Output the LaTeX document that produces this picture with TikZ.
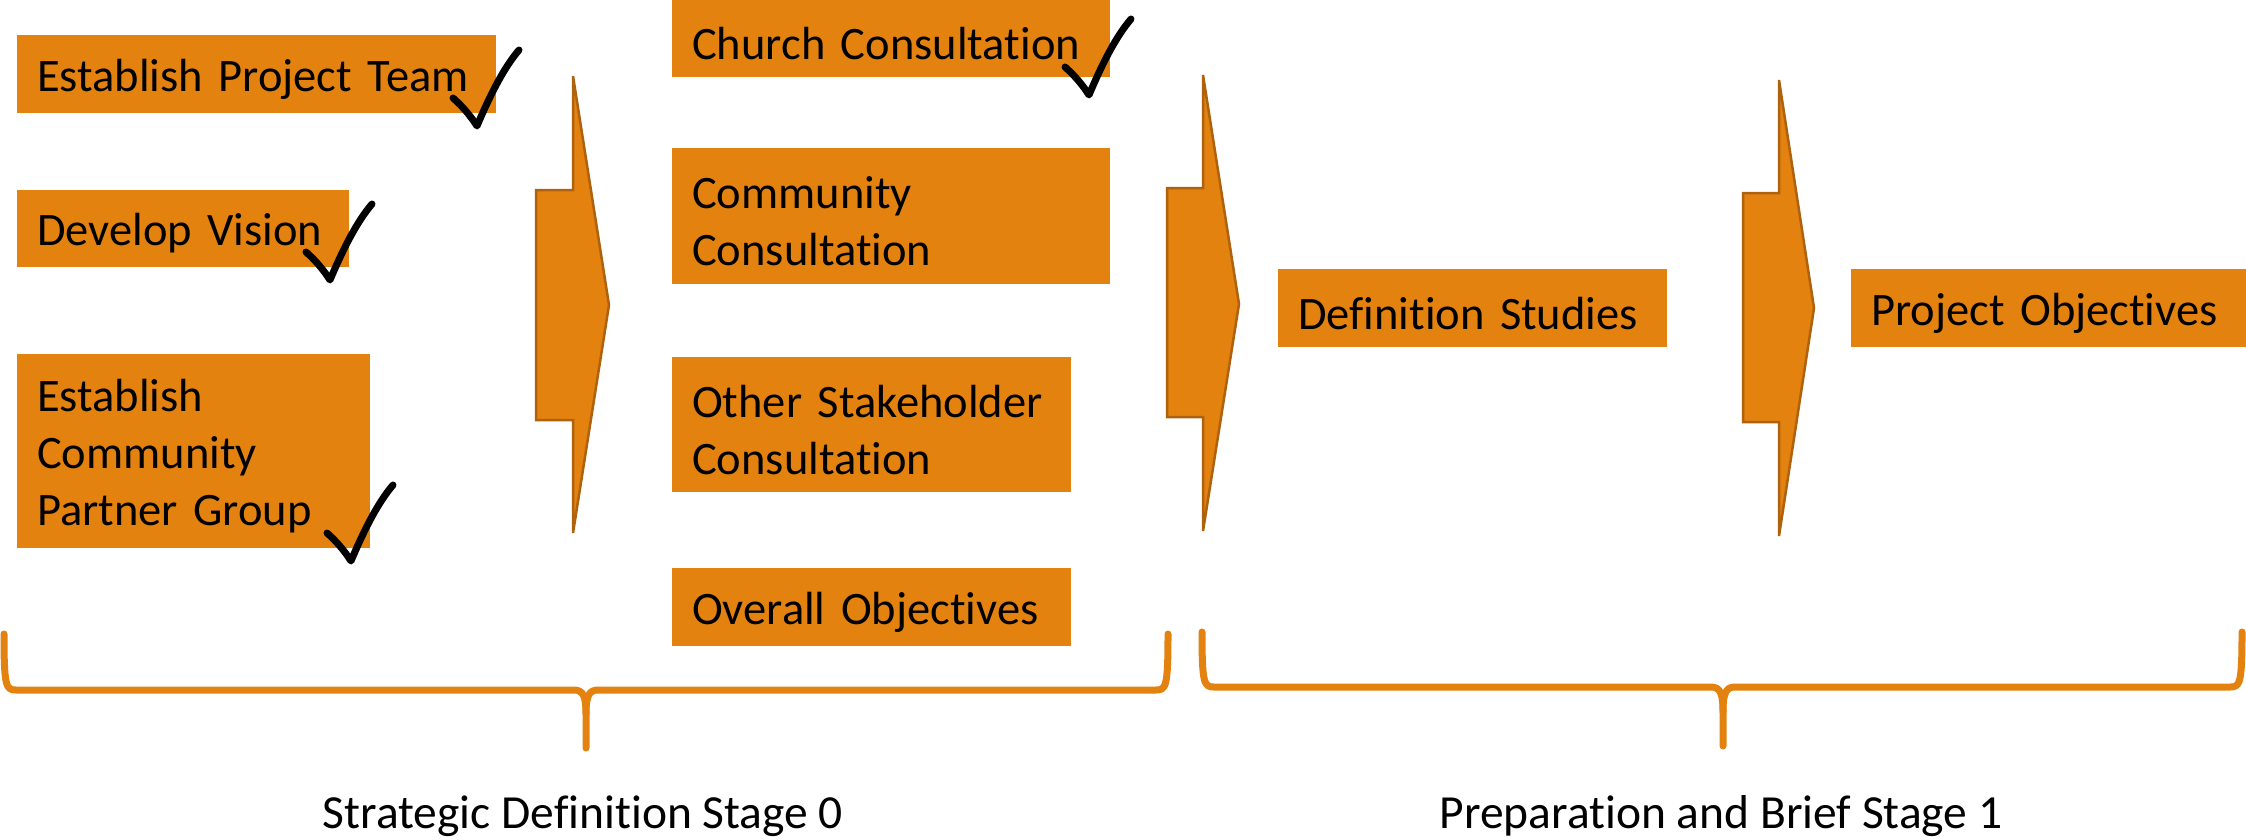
\documentclass[tikz,border=0pt]{standalone}
\usepackage{fontspec}
\setmainfont{Carlito}[Ligatures=NoCommon]
\definecolor{boxorange}{HTML}{E4820F}
\definecolor{edgeorange}{HTML}{AE620D}
\begin{document}
\begin{tikzpicture}[x=1pt,y=-1pt,
  stagebox/.style={fill=boxorange, draw=none, anchor=north west, inner xsep=20pt, inner ysep=0pt,
    align=left, font=\fontsize{46.5}{57}\selectfont,
    execute at begin node={\rule{0pt}{42pt}}},
  chevron/.style={fill=boxorange, draw=edgeorange, line width=2.5pt, line join=miter},
  bracestyle/.style={draw=boxorange, line width=7pt, line cap=round, line join=round},
  labeltext/.style={font=\fontsize{47.5}{57}\selectfont, inner sep=0pt},
  checkmark/.pic={\draw[line width=7pt, line cap=round, line join=round]
    (0,0) .. controls (9,8) and (17,17) .. (24,28) .. controls (35,2) and (49,-28) .. (66,-48);}
]
\useasboundingbox (0,0) rectangle (2246,839);
\clip (0,0) rectangle (2246,839);

% left column
\node[stagebox, text width=439pt, minimum height=78pt] (b1) at (17,35) {Establish Project Team};
\node[stagebox, text width=292pt, minimum height=77pt] (b2) at (17,190) {Develop Vision};
\node[stagebox, text width=313pt, minimum height=194pt] (b3) at (17,354) {Establish\\Community\\Partner Group};

% chevron 1
\draw[chevron] (573,76) -- (609,305) -- (573,533) -- (573,420) -- (536,420) -- (536,190) -- (573,190) -- cycle;

% middle column
\node[stagebox, text width=398pt, minimum height=77pt] (c1) at (672,0) {Church Consultation};
\node[stagebox, text width=398pt, minimum height=136pt] (c2) at (672,148) {Community\\Consultation};
\node[stagebox, text width=359pt, minimum height=135pt] (c3) at (672,357) {Other Stakeholder\\Consultation};
\node[stagebox, text width=359pt, minimum height=78pt] (c4) at (672,568) {Overall Objectives};

% chevron 2
\draw[chevron] (1203,75) -- (1239,304) -- (1203,531) -- (1203,417) -- (1167,417) -- (1167,188) -- (1203,188) -- cycle;

\node[stagebox, text width=349pt, minimum height=78pt] (d1) at (1278,269) {Definition Studies};

% chevron 3
\draw[chevron] (1779,80) -- (1814,308) -- (1779,536) -- (1779,422) -- (1743,422) -- (1743,193) -- (1779,193) -- cycle;

\node[stagebox, text width=355pt, minimum height=78pt] (p1) at (1851,269) {Project Objectives};

% check marks
\pic at (453,98) {checkmark};
\pic at (306,252) {checkmark};
\pic at (327,533) {checkmark};
\pic at (1065,67) {checkmark};

% braces
\draw[bracestyle] (4,634) .. controls (4,687) and (6,690) .. (16,690) -- (574,690)
   .. controls (583,690) and (586,696) .. (586,714) -- (586,748);
\draw[bracestyle] (1168,634) .. controls (1168,687) and (1166,690) .. (1156,690) -- (598,690)
   .. controls (589,690) and (586,696) .. (586,714);
\draw[bracestyle] (1202,632) .. controls (1202,684) and (1204,687) .. (1214,687) -- (1711,687)
   .. controls (1720,687) and (1723,693) .. (1723,712) -- (1723,746);
\draw[bracestyle] (2242,632) .. controls (2242,684) and (2240,687) .. (2230,687) -- (1735,687)
   .. controls (1726,687) and (1723,693) .. (1723,712);

% stage labels
\node[labeltext, anchor=base] (s0) at (583,828) {Strategic Definition Stage 0};
\node[labeltext, anchor=base] (s1) at (1721,828) {Preparation and Brief Stage 1};
\end{tikzpicture}
\end{document}
